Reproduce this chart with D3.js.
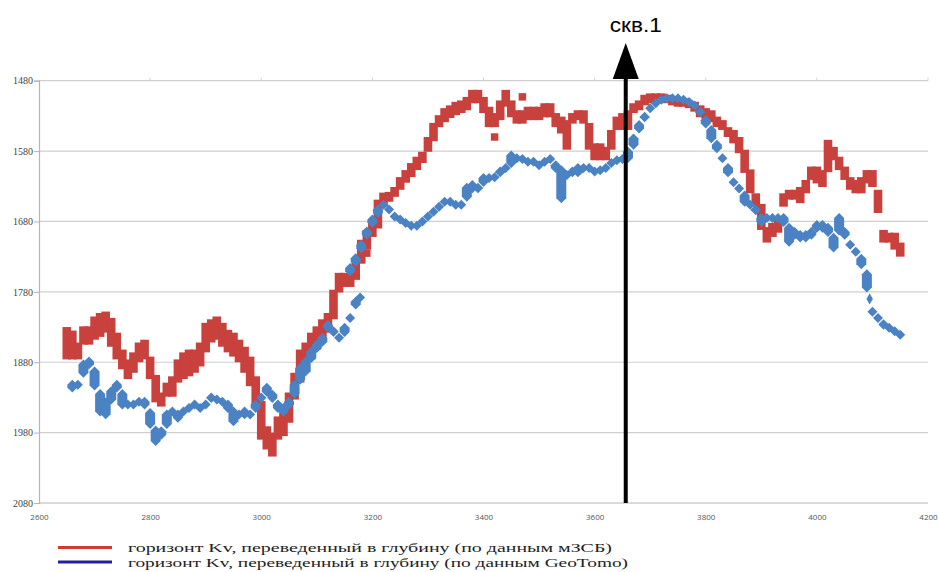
<!DOCTYPE html>
<html><head><meta charset="utf-8">
<script src="https://cdn.jsdelivr.net/npm/d3@7"></script>
<style>body{margin:0;background:#fff}svg{display:block}</style>
</head><body><svg id="c" width="938" height="572"></svg>
<script>
const xTicks = [2600,2800,3000,3200,3400,3600,3800,4000,4200];
const yTicks = [1480,1580,1680,1780,1880,1980,2080];
const wellX = 3656;
const wellLabel = "скв.1";
const legendLabels = [
  "горизонт Kv, переведенный в глубину (по данным мЗСБ)",
  "горизонт Kv, переведенный в глубину (по данным GeoTomo)"
];
// мЗСБ (red squares): [offset, depth of upper edge of cloud, depth of lower edge of cloud]
const mzsb = [
[2650,1830,1876],[2660,1835,1876],[2670,1852,1876],[2680,1829,1855],[2690,1829,1855],[2700,1815,1848],[2710,1810,1844],[2720,1808,1838],
[2730,1817,1858],[2740,1838,1876],[2750,1862,1890],[2760,1876,1904],[2770,1866,1895],[2780,1852,1880],[2790,1848,1876],[2800,1872,1904],
[2810,1898,1937],[2820,1923,1943],[2830,1909,1929],[2840,1900,1929],[2850,1876,1909],[2860,1866,1904],[2870,1862,1900],[2880,1862,1895],
[2890,1852,1886],[2900,1824,1866],[2910,1819,1852],[2920,1815,1848],[2930,1824,1858],[2940,1834,1866],[2950,1838,1872],[2960,1848,1880],
[2970,1858,1895],[2980,1872,1914],[2990,1900,1943],[3000,1935,1990],[3010,1971,2004],[3020,1980,2014],[3030,1957,1990],[3040,1947,1985],
[3050,1923,1966],[3060,1895,1933],[3070,1862,1909],[3080,1852,1886],[3090,1838,1876],[3100,1829,1862],[3110,1819,1852],[3120,1810,1838],
[3130,1777,1819],[3140,1753,1781],[3150,1753,1773],[3160,1753,1773],[3170,1734,1763],[3180,1706,1740],[3190,1692,1720],[3200,1682,1702],
[3210,1649,1690],[3220,1639,1659],[3230,1638,1652],[3240,1631,1645],[3250,1617,1635],[3260,1607,1625],[3270,1597,1617],[3280,1588,1607],
[3290,1581,1597],[3300,1560,1581],[3310,1540,1566],[3320,1529,1546],[3330,1519,1539],[3340,1515,1533],[3350,1510,1529],[3360,1508,1526],
[3370,1503,1522],[3380,1493,1512],[3390,1493,1512],[3400,1503,1526],[3410,1517,1546],[3420,1526,1546],[3430,1508,1536],[3440,1493,1517],
[3450,1508,1532],[3460,1522,1541],[3470,1522,1541],[3480,1517,1536],[3490,1517,1536],[3500,1517,1536],[3510,1512,1532],[3520,1512,1532],
[3530,1526,1546],[3540,1531,1555],[3550,1536,1578],[3560,1526,1541],[3570,1522,1536],[3580,1522,1541],[3590,1540,1578],[3600,1569,1593],
[3610,1569,1593],[3620,1574,1593],[3630,1550,1578],[3640,1531,1550],[3650,1526,1550],[3660,1522,1550],[3670,1512,1526],[3680,1508,1522],
[3690,1500,1515],[3700,1498,1512],[3710,1498,1510],[3720,1498,1510],[3730,1500,1512],[3740,1503,1515],[3750,1505,1517],[3760,1505,1517],
[3770,1508,1519],[3780,1510,1524],[3790,1515,1532],[3800,1519,1536],[3810,1522,1539],[3820,1531,1546],[3830,1536,1550],[3840,1546,1560],
[3850,1550,1569],[3860,1560,1583],[3870,1578,1611],[3880,1606,1640],[3890,1640,1659],[3900,1655,1692],[3910,1688,1710],[3920,1682,1702],
[3930,1678,1696],[3940,1640,1659],[3950,1635,1649],[3960,1635,1649],[3970,1631,1654],[3980,1621,1640],[3990,1602,1621],[4000,1602,1626],
[4010,1607,1631],[4020,1564,1610],[4030,1574,1593],[4040,1588,1607],[4050,1602,1621],[4060,1617,1635],[4070,1621,1640],[4080,1617,1640],
[4090,1607,1626],[4100,1607,1631],[4110,1635,1668],[4120,1692,1710],[4130,1696,1710],[4140,1696,1720],[4150,1710,1730]
];
// isolated red squares: [offset, depth]
const mzsbStray = [[3420,1560],[3470,1503],[3190,1725]];
// GeoTomo (blue diamonds): [offset, depth of upper edge, depth of lower edge]
const geotomo = [
[2660,1905,1923],[2670,1905,1919],[2680,1876,1902],[2690,1872,1890],[2700,1886,1920],[2710,1918,1957],[2720,1930,1961],[2730,1914,1940],
[2740,1905,1923],[2750,1918,1947],[2760,1933,1947],[2770,1933,1947],[2780,1929,1943],[2790,1929,1947],[2800,1945,1975],[2810,1970,1999],
[2820,1971,1990],[2830,1947,1975],[2840,1943,1957],[2850,1947,1966],[2860,1943,1957],[2870,1938,1952],[2880,1933,1947],[2890,1938,1952],
[2900,1933,1947],[2910,1923,1938],[2920,1926,1940],[2930,1929,1943],[2940,1933,1952],[2950,1943,1971],[2960,1947,1961],[2970,1943,1961],
[2980,1947,1961],[2990,1933,1952],[3000,1923,1938],[3010,1909,1929],[3020,1919,1938],[3030,1933,1952],[3040,1938,1957],[3050,1929,1947],
[3060,1905,1932],[3070,1881,1912],[3080,1872,1900],[3090,1858,1881],[3100,1848,1867],[3110,1838,1858],[3120,1820,1838],[3130,1829,1844],
[3140,1838,1848],[3150,1824,1844],[3160,1810,1824],[3170,1787,1805],[3178,1781,1791],
[3160,1739,1758],[3170,1725,1744],[3180,1706,1725],[3190,1687,1706],[3200,1670,1689],[3210,1656,1675],[3220,1649,1661],[3230,1656,1668],
[3240,1666,1675],[3250,1670,1680],[3260,1675,1683],[3270,1679,1686],[3280,1679,1686],[3290,1673,1682],[3300,1666,1675],[3310,1659,1668],
[3320,1652,1661],[3330,1645,1654],[3340,1645,1656],[3350,1649,1661],[3360,1649,1663],[3370,1625,1652],[3380,1621,1640],[3390,1625,1640],
[3400,1611,1631],[3410,1611,1625],[3420,1610,1624],[3430,1602,1617],[3440,1597,1611],[3450,1579,1604],[3460,1583,1597],[3470,1584,1597],
[3480,1588,1597],[3490,1588,1602],[3500,1593,1607],[3510,1588,1602],[3520,1584,1597],[3530,1593,1611],[3540,1600,1654],[3550,1607,1621],
[3560,1602,1617],[3570,1597,1617],[3580,1597,1611],[3590,1597,1607],[3600,1602,1611],[3610,1600,1610],[3620,1597,1607],[3630,1590,1600],
[3640,1586,1597],[3650,1584,1597],[3660,1574,1597],[3670,1555,1578],[3680,1536,1555],[3690,1524,1539],[3700,1512,1526],[3710,1505,1517],
[3720,1500,1512],[3730,1498,1510],[3740,1498,1508],[3750,1498,1508],[3760,1500,1510],[3770,1503,1515],[3780,1508,1519],[3790,1517,1532],
[3800,1529,1548],[3810,1543,1569],[3820,1564,1583],[3830,1583,1597],[3840,1597,1617],[3850,1617,1631],[3860,1626,1640],[3870,1636,1659],
[3880,1649,1659],[3890,1656,1671],[3900,1668,1688],[3910,1668,1682],[3920,1668,1682],[3930,1668,1682],[3940,1668,1688],[3950,1682,1716],
[3960,1688,1706],[3970,1692,1710],[3980,1692,1710],[3990,1688,1706],[4000,1678,1696],[4010,1678,1696],[4020,1682,1702],[4030,1696,1724],
[4040,1668,1700],[4050,1688,1706],[4060,1706,1720],[4070,1716,1730],[4080,1726,1748],[4090,1748,1781],[4100,1801,1815],[4110,1810,1824],
[4120,1819,1834],[4130,1824,1834],[4140,1829,1838],[4150,1834,1843]
];
// isolated blue diamonds: [offset, depth]
const geotomoStray = [[4095,1790]];

const svg = d3.select("#c");
const x = d3.scaleLinear().domain([2600,4200]).range([39,928]);
const y = d3.scaleLinear().domain([1480,2080]).range([80.7,503]);

// gridlines
svg.append("g").selectAll("line").data(yTicks).join("line")
  .attr("x1",39).attr("x2",928).attr("y1",d=>y(d)).attr("y2",d=>y(d))
  .attr("stroke",d=>d===2080?"#b5b5b5":"#cfcfcf").attr("stroke-width",1.2);

// y axis
const ya = svg.append("g").attr("transform","translate(39,0)")
  .call(d3.axisLeft(y).tickValues(yTicks).tickSize(5).tickFormat(d3.format("d")));
ya.select(".domain").attr("stroke","#b5b5b5").attr("stroke-width",1.2);
ya.selectAll(".tick line").attr("stroke","#b5b5b5");
ya.selectAll("text").attr("font-family","Liberation Serif, serif").attr("font-size",10).attr("fill","#444").attr("x",-6);

// x axis
const xa = svg.append("g").attr("transform",`translate(0,${y(2080)})`)
  .call(d3.axisBottom(x).tickValues(xTicks).tickSize(0).tickPadding(11).tickFormat(d3.format("d")));
xa.select(".domain").remove();
xa.selectAll("text").attr("font-family","Open Sans, sans-serif").attr("font-size",8).attr("fill","#555");

// small top ticks
svg.append("g").selectAll("line").data(xTicks.slice(1)).join("line")
  .attr("x1",d=>x(d)).attr("x2",d=>x(d)).attr("y1",y(1480)-3).attr("y2",y(1480))
  .attr("stroke","#cfcfcf");

// red: clouds of overlapping squares
const red = "#c9413d";
const rg = svg.append("g").attr("fill",red);
rg.selectAll("rect.c").data(mzsb).join("rect").attr("class","c")
  .attr("x",d=>x(d[0])-4.3).attr("width",8.6)
  .attr("y",d=>y(d[1])).attr("height",d=>y(d[2])-y(d[1]));
const sq = d3.symbol().type(d3.symbolSquare).size(56);
rg.selectAll("path").data(mzsbStray).join("path")
  .attr("d",sq).attr("transform",d=>`translate(${x(d[0])},${y(d[1])})`);

// blue: clouds of overlapping diamonds
const blue = "#4a82c3";
const r = 5;
const bg = svg.append("g").attr("fill",blue);
bg.selectAll("path.c").data(geotomo).join("path").attr("class","c")
  .attr("d",d=>{
    const cx = x(d[0]), t = y(d[1]), b = Math.max(y(d[2]), t + 2*r);
    return `M${cx},${t} L${cx+r},${t+r} L${cx+r},${b-r} L${cx},${b} L${cx-r},${b-r} L${cx-r},${t+r} Z`;
  });
const dm = d3.symbol().type(d3.symbolDiamond).size(36);
bg.selectAll("path.s").data(geotomoStray).join("path").attr("class","s")
  .attr("d",dm).attr("transform",d=>`translate(${x(d[0])},${y(d[1])})`);

// well line + arrow
const ax = x(wellX);
svg.append("line").attr("x1",ax).attr("x2",ax).attr("y1",y(1480)-2).attr("y2",y(2080))
  .attr("stroke","#000").attr("stroke-width",4);
svg.append("path").attr("d",`M${ax-13},79 L${ax+13},79 L${ax},43 Z`).attr("fill","#000");
svg.append("text").attr("x",ax+10).attr("y",32).attr("text-anchor","middle")
  .attr("font-family","Liberation Sans, Arial, sans-serif").attr("font-size",20)
  .attr("textLength",52).attr("lengthAdjust","spacingAndGlyphs").text(wellLabel);

// legend
const legColors = ["#cf3a35","#23229a"];
const lg = svg.append("g");
legendLabels.forEach((t,i)=>{
  const yy = 547.5 + i*14.5;
  lg.append("line").attr("x1",58).attr("x2",112).attr("y1",yy).attr("y2",yy)
    .attr("stroke",legColors[i]).attr("stroke-width",3.2);
  lg.append("text").attr("x",128).attr("y",yy+4.5).attr("font-family","Liberation Serif, serif")
    .attr("font-size",13).attr("fill","#222")
    .attr("textLength",i===0?484:500).attr("lengthAdjust","spacingAndGlyphs").text(t);
});
</script></body></html>
